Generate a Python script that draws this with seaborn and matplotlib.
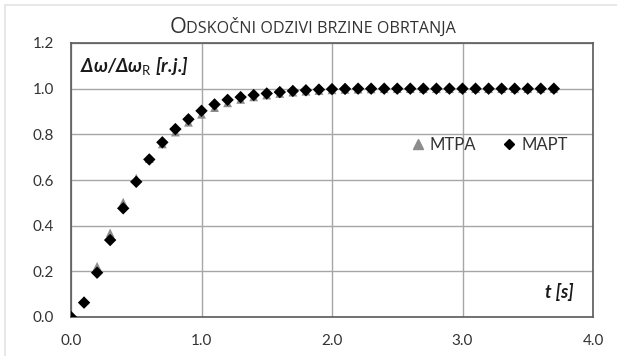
import matplotlib
matplotlib.use("Agg")
import matplotlib.pyplot as plt
import seaborn as sns
import pandas as pd
import numpy as np
from matplotlib.lines import Line2D

t_values = [round(0.1 * i, 1) for i in range(38)]
mapt = [0.0, 0.063, 0.194, 0.337, 0.476, 0.592, 0.69, 0.765, 0.823, 0.866,
        0.903, 0.931, 0.951, 0.963, 0.972, 0.979, 0.985, 0.99, 0.993, 0.996,
        0.998, 0.999, 1.0, 1.0, 1.0, 1.0, 1.0, 1.0, 1.0, 1.0,
        1.0, 1.0, 1.0, 1.0, 1.0, 1.0, 1.0, 1.0]
mtpa = [0.0, 0.072, 0.222, 0.368, 0.503, 0.608, 0.694, 0.758, 0.81, 0.853,
        0.888, 0.917, 0.938, 0.953, 0.964, 0.972, 0.979, 0.985, 0.989, 0.992,
        0.995, 0.997, 0.998, 0.999, 1.0, 1.0, 1.0, 1.0, 1.0, 1.0,
        1.0, 1.0, 1.0, 1.0, 1.0, 1.0, 1.0, 1.0]
series_names = ["MTPA", "MAPT"]
x_ticks = [0.0, 1.0, 2.0, 3.0, 4.0]
y_ticks = [0.0, 0.2, 0.4, 0.6, 0.8, 1.0, 1.2]

df = pd.DataFrame({
    "t": t_values * 2,
    "v": mtpa + mapt,
    "s": ["MTPA"] * len(t_values) + ["MAPT"] * len(t_values),
})

sns.set_style("white")
plt.rcParams["font.family"] = ["Lato", "DejaVu Sans"]
plt.rcParams["mathtext.fontset"] = "custom"
plt.rcParams["mathtext.rm"] = "Lato"
plt.rcParams["mathtext.it"] = "Lato:italic"
plt.rcParams["mathtext.bf"] = "Lato:bold"
plt.rcParams["mathtext.bfit"] = "Lato:bold:italic"

fig = plt.figure(figsize=(6.17, 3.56), dpi=100)
ax = fig.add_axes([71 / 617, 1 - 317 / 356, (593 - 71) / 617, (317 - 43) / 356])

sns.scatterplot(data=df, x="t", y="v", hue="s", style="s",
                hue_order=series_names, style_order=series_names,
                palette={"MTPA": "#8c8c8c", "MAPT": "#000000"},
                markers={"MTPA": "^", "MAPT": "D"},
                s=40, linewidth=0, ax=ax, legend=False, zorder=3)

ax.set_xlim(0, 4.0)
ax.set_ylim(0, 1.2)
ax.set_xticks(x_ticks)
ax.set_yticks(y_ticks)
ax.set_xticklabels([f"{v:.1f}" for v in x_ticks])
ax.set_yticklabels([f"{v:.1f}" for v in y_ticks])
ax.tick_params(axis="both", length=0, labelsize=11, colors="#333333")
ax.tick_params(axis="x", pad=12)
ax.tick_params(axis="y", pad=12)
ax.grid(True, color="#a6a6a6", linewidth=1.0, zorder=0)
ax.set_axisbelow(True)
for sp in ax.spines.values():
    sp.set_visible(True)
    sp.set_color("#5a5a5a")
    sp.set_linewidth(1.2)
ax.set_xlabel("")
ax.set_ylabel("")

ax.text(0.017, 0.955, r"$\mathbfit{\Delta\omega/\Delta\omega}_{\mathrm{R}}\ \mathbfit{[r.\!j.\!]}$",
        transform=ax.transAxes, ha="left", va="top", fontsize=13.5,
        color="#1a1a1a", bbox=dict(facecolor="white", edgecolor="none", pad=1.5), zorder=4)
ax.text(0.962, 0.09, "t [s]", transform=ax.transAxes, ha="right", va="center",
        fontsize=13, fontweight="bold", fontstyle="italic", color="#1a1a1a", zorder=4)

handles = [Line2D([], [], marker="^", color="#8c8c8c", linestyle="none", markersize=6.5),
           Line2D([], [], marker="D", color="#000000", linestyle="none", markersize=5)]
leg = ax.legend(handles, series_names, loc="center", bbox_to_anchor=(0.80, 0.628),
                ncol=2, frameon=False, fontsize=12, handletextpad=0.2, columnspacing=1.5,
                handlelength=1.0, labelcolor="#333333")

# Small-caps style title
title_y = 1 - 33 / 356
t1 = fig.text(0.0, title_y, "O", fontsize=12.5, color="#333333", va="baseline", ha="left",
              family=["Open Sans", "DejaVu Sans"])
t2 = fig.text(0.0, title_y, "DSKOČNI ODZIVI BRZINE OBRTANJA", fontsize=9.3, color="#333333",
              va="baseline", ha="left", family=["Open Sans", "DejaVu Sans"])
fig.canvas.draw()
r = fig.canvas.get_renderer()
target = 287.0
for _ in range(3):
    w1 = t1.get_window_extent(r).width
    w2 = t2.get_window_extent(r).width
    k = target / (w1 + w2)
    t1.set_fontsize(t1.get_fontsize() * k)
    t2.set_fontsize(t2.get_fontsize() * k)
    fig.canvas.draw()
w1 = t1.get_window_extent(r).width
w2 = t2.get_window_extent(r).width
start = 313 - (w1 + w2) / 2
t1.set_x(start / 617)
t2.set_x((start + w1) / 617)

# faint outer frame lines (top and left)
fig.add_artist(Line2D([5 / 617, 1], [1 - 5 / 356, 1 - 5 / 356], transform=fig.transFigure,
                      color="#e3e3e3", linewidth=1.2))
fig.add_artist(Line2D([5 / 617, 5 / 617], [0, 1 - 5 / 356], transform=fig.transFigure,
                      color="#e3e3e3", linewidth=1.2))

fig.savefig("out.png", dpi=100)
